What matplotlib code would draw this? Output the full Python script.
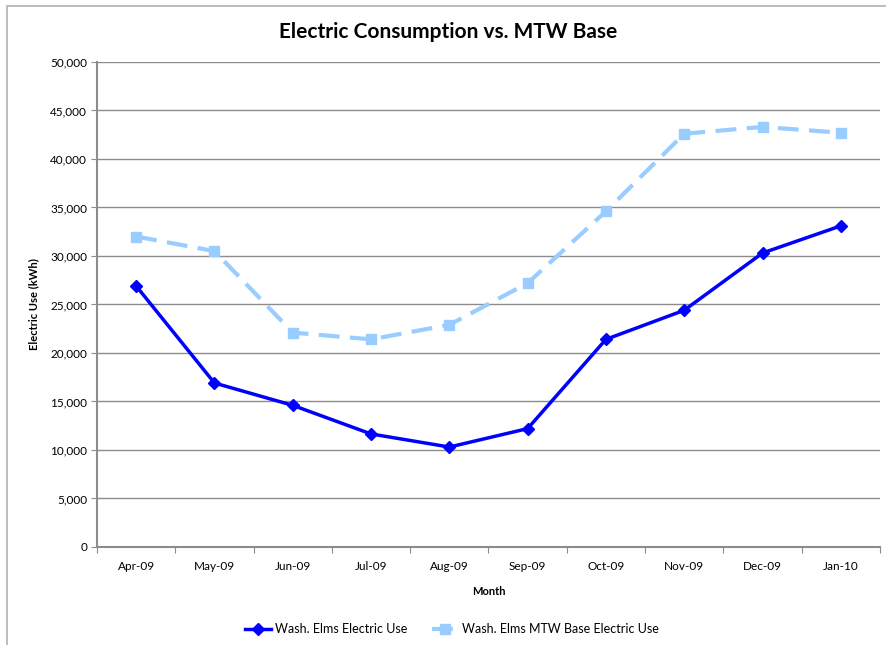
import numpy as np
import matplotlib.pyplot as plt
from matplotlib.patches import Rectangle
from matplotlib.ticker import FuncFormatter

plt.rcParams['font.family'] = ['Lato', 'DejaVu Sans']

# データ
months = ['Apr-09', 'May-09', 'Jun-09', 'Jul-09', 'Aug-09',
          'Sep-09', 'Oct-09', 'Nov-09', 'Dec-09', 'Jan-10']
elms_use = [26900, 16900, 14600, 11650, 10300, 12200, 21400, 24400, 30300, 33100]
mtw_base = [32000, 30500, 22100, 21400, 22900, 27200, 34600, 42600, 43300, 42700]

fig = plt.figure(figsize=(8.86, 6.45), dpi=100)
ax = fig.add_axes([0.1095, 0.152, 0.8837, 0.752])

# 外枠
fig.patches.append(Rectangle((7 / 886, -0.05), 1.0, 1.05 - 6 / 645,
                             transform=fig.transFigure, fill=False,
                             edgecolor='#b0b0b0', linewidth=1.2))

x = np.arange(len(months))
ax.plot(x, elms_use, color='#0000ff', linewidth=2.5, marker='D',
        markersize=6, label='Wash. Elms Electric Use', zorder=4)
ax.plot(x, mtw_base, color='#99ccff', linewidth=3, linestyle=(0, (5, 2.5)),
        marker='s', markersize=7.5, label='Wash. Elms MTW Base Electric Use', zorder=3)

ax.set_xlim(-0.5, len(months) - 0.5)
ax.set_ylim(0, 50000)
ax.set_yticks(np.arange(0, 50001, 5000))
ax.yaxis.set_major_formatter(FuncFormatter(lambda v, p: f'{int(v):,}'))
ax.grid(axis='y', color='#8c8c8c', linewidth=1)
ax.set_axisbelow(True)

# 目盛りはカテゴリの境界に
ax.set_xticks(np.arange(-0.5, len(months), 1.0))
ax.set_xticklabels([])
ax.set_xticks(x, minor=True)
ax.set_xticklabels(months, minor=True)
ax.tick_params(axis='x', which='minor', length=0, pad=10, labelsize=8.5)
ax.tick_params(axis='x', which='major', length=4, color='#8c8c8c')
ax.tick_params(axis='y', length=4, color='#8c8c8c', labelsize=8.5, pad=3)

for s in ['top', 'right']:
    ax.spines[s].set_visible(False)
for s in ['left', 'bottom']:
    ax.spines[s].set_color('#8c8c8c')
    ax.spines[s].set_linewidth(1.5)

ax.set_xlabel('Month', fontsize=8, fontweight='bold', labelpad=10)
ax.set_ylabel('Electric Use (kWh)', fontsize=8, fontweight='bold', labelpad=8)
fig.text(0.506, 0.951, 'Electric Consumption vs. MTW Base', ha='center', va='center',
         fontsize=15, fontweight='bold')

fig.legend(loc='center', bbox_to_anchor=(0.51, 0.025), ncol=2, frameon=False,
           fontsize=9, handlelength=2.1, handletextpad=0.3, columnspacing=2.0)

plt.savefig('out.png', dpi=100)
plt.close()
